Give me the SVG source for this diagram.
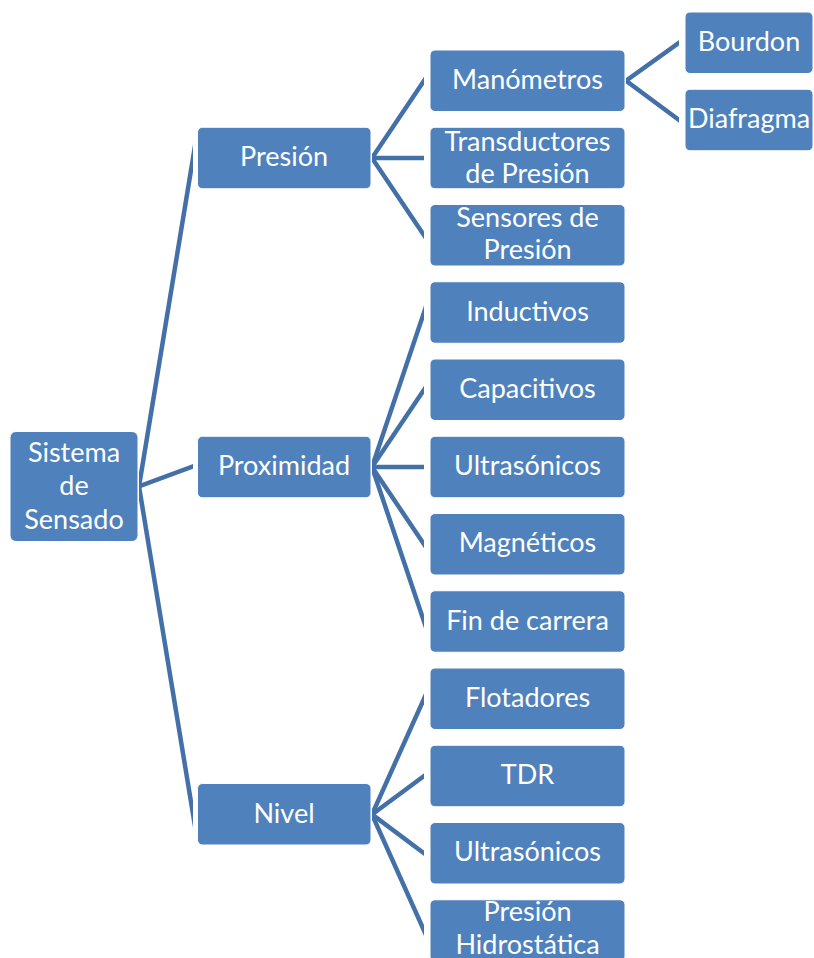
<svg xmlns="http://www.w3.org/2000/svg" width="814" height="958" viewBox="0 0 814 958">
  <style>
    .box { fill: #4F81BD; stroke: #ffffff; stroke-width: 1; }
    .lbl { fill: #ffffff; font-family: Lato, "Open Sans", "Liberation Sans", sans-serif; font-size: 27px; text-anchor: middle; }
    .con line { stroke: #4470A8; stroke-width: 4.5; stroke-linecap: butt; }
  </style>
  <defs>
    <clipPath id="clipA"><rect x="139" y="0" width="54" height="958"/></clipPath>
    <clipPath id="clipB"><rect x="372" y="0" width="52" height="958"/></clipPath>
    <clipPath id="clipC"><rect x="626" y="0" width="53" height="958"/></clipPath>
  </defs>
  <rect width="814" height="958" fill="#ffffff"/>

  <!-- connectors -->
  <g id="connectors" class="con">
    <g clip-path="url(#clipA)">
      <line x1="135" y1="510.6" x2="197" y2="133.8"/>
      <line x1="135" y1="487.8" x2="197" y2="465.0"/>
      <line x1="135" y1="462.1" x2="197" y2="838.3"/>
    </g>
    <g clip-path="url(#clipB)">
      <line x1="368" y1="163.9" x2="428" y2="74.8"/>
      <line x1="368" y1="158" x2="428" y2="158"/>
      <line x1="368" y1="152.1" x2="428" y2="241.2"/>
      <line x1="368" y1="478.9" x2="428" y2="300.6"/>
      <line x1="368" y1="472.9" x2="428" y2="383.8"/>
      <line x1="368" y1="467" x2="428" y2="467"/>
      <line x1="368" y1="461.1" x2="428" y2="550.2"/>
      <line x1="368" y1="455.1" x2="428" y2="633.4"/>
      <line x1="368" y1="823.3" x2="428" y2="689.9"/>
      <line x1="368" y1="817.4" x2="428" y2="773.0"/>
      <line x1="368" y1="811.4" x2="428" y2="856.2"/>
      <line x1="368" y1="805.5" x2="428" y2="939.4"/>
    </g>
    <g clip-path="url(#clipC)">
      <line x1="622" y1="83.6" x2="683" y2="39.9"/>
      <line x1="622" y1="77.8" x2="683" y2="123.0"/>
    </g>
  </g>

  <!-- root -->
  <g id="n-sistema">
    <rect class="box" x="10" y="431.5" width="128" height="110" rx="6"/>
    <text class="lbl" x="74" y="462">Sistema</text>
    <text class="lbl" x="74" y="495">de</text>
    <text class="lbl" x="74" y="528.5">Sensado</text>
  </g>

  <!-- first level -->
  <g id="n-presion">
    <rect class="box" x="197.5" y="127.25" width="173.5" height="61.5" rx="5"/>
    <text class="lbl" x="284" y="166">Presión</text>
  </g>
  <g id="n-proximidad">
    <rect class="box" x="197.5" y="436.25" width="173.5" height="61.5" rx="5"/>
    <text class="lbl" x="284" y="475">Proximidad</text>
  </g>
  <g id="n-nivel">
    <rect class="box" x="197.5" y="783.5" width="173.5" height="61.5" rx="5"/>
    <text class="lbl" x="284" y="822.5">Nivel</text>
  </g>

  <!-- second level -->
  <g id="n-manometros">
    <rect class="box" x="430" y="50" width="195" height="61.5" rx="5"/>
    <text class="lbl" x="527.5" y="89">Manómetros</text>
  </g>
  <g id="n-transductores">
    <rect class="box" x="430" y="127.25" width="195" height="61.5" rx="5"/>
    <text class="lbl" x="527.5" y="150.5">Transductores</text>
    <text class="lbl" x="527.5" y="183">de Presión</text>
  </g>
  <g id="n-sensores">
    <rect class="box" x="430" y="204.5" width="195" height="61.5" rx="5"/>
    <text class="lbl" x="527.5" y="227">Sensores de</text>
    <text class="lbl" x="527.5" y="259">Presión</text>
  </g>
  <g id="n-inductivos">
    <rect class="box" x="430" y="281.75" width="195" height="61.5" rx="5"/>
    <text class="lbl" x="527.5" y="320.5">Inductivos</text>
  </g>
  <g id="n-capacitivos">
    <rect class="box" x="430" y="359" width="195" height="61.5" rx="5"/>
    <text class="lbl" x="527.5" y="397.75">Capacitivos</text>
  </g>
  <g id="n-ultrasonicos-1">
    <rect class="box" x="430" y="436.25" width="195" height="61.5" rx="5"/>
    <text class="lbl" x="527.5" y="475">Ultrasónicos</text>
  </g>
  <g id="n-magneticos">
    <rect class="box" x="430" y="513.5" width="195" height="61.5" rx="5"/>
    <text class="lbl" x="527.5" y="552.25">Magnéticos</text>
  </g>
  <g id="n-fin-carrera">
    <rect class="box" x="430" y="590.75" width="195" height="61.5" rx="5"/>
    <text class="lbl" x="527.5" y="629.5">Fin de carrera</text>
  </g>
  <g id="n-flotadores">
    <rect class="box" x="430" y="668" width="195" height="61.5" rx="5"/>
    <text class="lbl" x="527.5" y="706.75">Flotadores</text>
  </g>
  <g id="n-tdr">
    <rect class="box" x="430" y="745.25" width="195" height="61.5" rx="5"/>
    <text class="lbl" x="527.5" y="784">TDR</text>
  </g>
  <g id="n-ultrasonicos-2">
    <rect class="box" x="430" y="822.5" width="195" height="61.5" rx="5"/>
    <text class="lbl" x="527.5" y="861.25">Ultrasónicos</text>
  </g>
  <g id="n-hidrostatica">
    <rect class="box" x="430" y="899.75" width="195" height="61.5" rx="5"/>
    <text class="lbl" x="527.5" y="921">Presión</text>
    <text class="lbl" x="527.5" y="953.5">Hidrostática</text>
  </g>

  <!-- third level -->
  <g id="n-bourdon">
    <rect class="box" x="685" y="12" width="128" height="61.5" rx="5"/>
    <text class="lbl" x="749" y="50.75">Bourdon</text>
  </g>
  <g id="n-diafragma">
    <rect class="box" x="685" y="89.25" width="128" height="61.5" rx="5"/>
    <text class="lbl" x="749" y="128">Diafragma</text>
  </g>
</svg>
